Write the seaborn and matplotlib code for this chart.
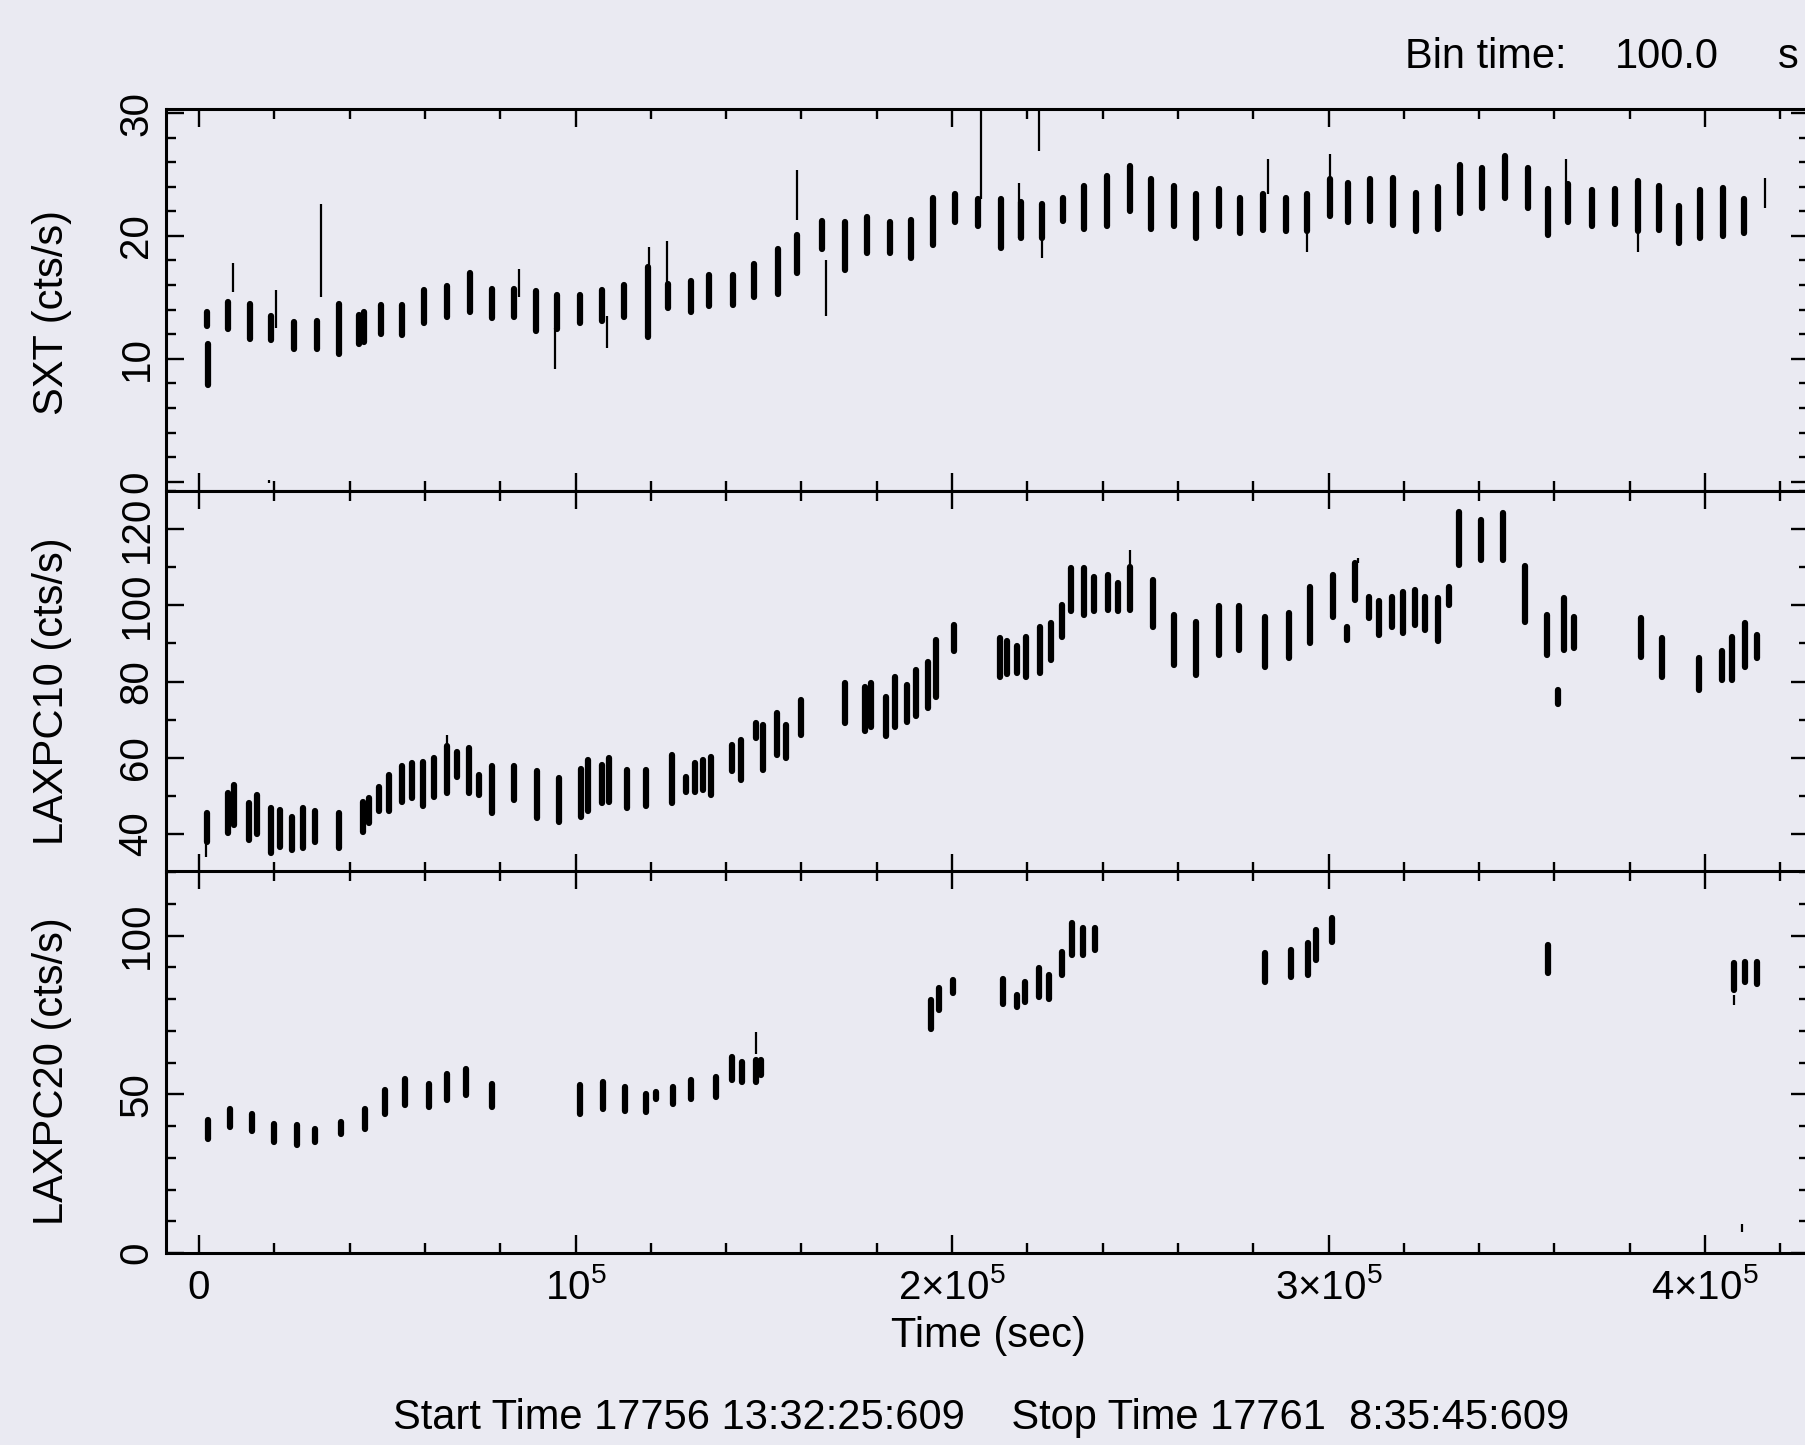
import matplotlib
matplotlib.use("Agg")
import matplotlib.pyplot as plt
import seaborn as sns
from matplotlib.ticker import MultipleLocator

# ---------------- data ----------------
# time (s) of each orbit segment, lower / upper extent of the plotted rates
sxt_t = [2000, 2300, 7740, 13540, 19250, 25240, 31220, 37200, 42600, 43800,
         48260, 53800, 59800, 65800, 72000, 77700, 83700, 89500, 95200, 101200,
         107000, 112900, 119200, 124700, 130700, 135500, 141700, 147400, 153800, 158800,
         165500, 171500, 177400, 183400, 189000, 194900, 200700, 206900, 212900, 218300,
         223900, 229400, 235100, 241200, 247200, 252900, 258900, 264800, 270800, 276400,
         282700, 288600, 294400, 300500, 305300, 311100, 317200, 323200, 329000, 334800,
         340800, 346800, 352900, 358400, 363500, 370000, 376100, 382100, 387700, 393200,
         398800, 404800, 410400]
sxt_lo = [12.7, 7.9, 12.4, 11.6, 11.5, 10.8, 10.8, 10.4, 11.2, 11.4,
          12.0, 11.9, 12.9, 13.4, 13.8, 13.3, 13.4, 12.3, 12.4, 12.9,
          13.1, 13.4, 11.8, 14.1, 13.8, 14.3, 14.4, 15.0, 15.3, 17.0,
          18.9, 17.2, 18.6, 18.6, 18.2, 19.3, 21.1, 20.8, 19.0, 19.8,
          19.8, 21.2, 20.6, 20.8, 22.0, 20.6, 20.8, 19.8, 20.8, 20.2,
          20.5, 20.4, 20.4, 21.6, 21.1, 21.2, 20.9, 20.4, 20.6, 21.9,
          22.3, 23.1, 22.3, 20.1, 21.1, 20.8, 21.0, 20.4, 20.5, 19.4,
          19.8, 20.0, 20.2]
sxt_hi = [13.8, 11.2, 14.6, 14.5, 13.5, 13.0, 13.1, 14.5, 13.6, 13.8,
          14.4, 14.4, 15.6, 15.9, 17.0, 15.7, 15.7, 15.5, 15.2, 15.2,
          15.6, 16.0, 17.5, 16.1, 16.3, 16.8, 16.8, 17.7, 18.9, 20.1,
          21.2, 21.1, 21.5, 21.1, 21.3, 23.1, 23.4, 23.0, 23.0, 22.8,
          22.6, 23.1, 24.1, 24.9, 25.7, 24.6, 24.1, 23.4, 23.8, 23.1,
          23.4, 23.1, 23.4, 24.6, 24.3, 24.6, 24.7, 23.5, 24.0, 25.8,
          25.5, 26.5, 25.5, 23.8, 24.2, 23.7, 23.8, 24.5, 24.1, 22.4,
          23.7, 23.9, 23.0]
# isolated single bins with large error bars
sxt_spk_t = [8930, 18500, 20450, 32330, 84900, 94500, 108300, 119400, 124200, 158800,
             166600, 207800, 217700, 223000, 223900, 283900, 294400, 300300, 363000, 382100,
             416000]
sxt_spk_lo = [15.4, -0.1, 12.5, 15.0, 15.0, 9.2, 10.9, 16.0, 16.0, 21.3,
              13.5, 23.0, 19.8, 26.9, 18.2, 23.4, 18.7, 24.6, 24.2, 18.7,
              22.3]
sxt_spk_hi = [17.8, 0.1, 15.6, 22.6, 17.3, 12.5, 13.5, 19.1, 19.6, 25.4,
              18.0, 31.0, 24.3, 31.0, 20.0, 26.3, 20.4, 26.7, 26.3, 20.4,
              24.7]

lx10_t = [2200, 7700, 9400, 13300, 15300, 19250, 21500, 24800, 27500, 30900,
          37200, 43650, 45200, 47800, 50400, 53800, 56500, 59600, 62500, 65800,
          68500, 71700, 74500, 77700, 83700, 89700, 95700, 101500, 103300, 107000,
          108800, 113800, 118700, 125500, 129300, 131800, 133800, 136000, 141600, 143900,
          148000, 149800, 153500, 156000, 160000, 171500, 177000, 178500, 182500, 184800,
          188000, 190500, 193500, 195800, 200400, 212800, 214500, 217300, 219700, 223400,
          226200, 229200, 231700, 235000, 237700, 241400, 244100, 247400, 253300, 258900,
          264800, 270800, 276300, 283000, 289500, 295200, 301100, 305000, 307000, 310800,
          313400, 316800, 319900, 323100, 325700, 329100, 332000, 334600, 340400, 346400,
          352200, 358100, 361000, 362500, 365300, 383000, 388500, 398500, 404500, 407300,
          410700, 413700]
lx10_lo = [38.0, 40.2, 42.4, 38.4, 40.0, 34.9, 36.5, 35.8, 36.2, 38.0,
           36.2, 40.6, 42.8, 45.9, 45.9, 48.5, 49.4, 47.3, 49.8, 50.7,
           55.0, 50.7, 50.2, 45.4, 48.9, 44.1, 43.2, 44.5, 46.0, 48.0,
           48.5, 46.7, 47.2, 48.0, 51.1, 51.1, 51.5, 50.2, 56.4, 54.2,
           65.1, 56.8, 60.7, 59.9, 66.0, 69.0, 66.9, 68.0, 65.6, 68.0,
           69.5, 71.0, 73.0, 76.0, 87.9, 81.3, 82.0, 82.2, 81.3, 82.2,
           85.7, 91.8, 98.4, 97.5, 98.4, 98.8, 98.4, 98.8, 94.4, 84.4,
           81.7, 87.0, 88.3, 83.9, 86.1, 90.0, 97.0, 90.9, 101.4, 96.6,
           92.2, 94.4, 92.7, 94.9, 93.5, 90.5, 100.1, 110.6, 111.9, 111.9,
           95.7, 87.0, 74.1, 88.3, 88.7, 86.5, 81.3, 77.8, 80.4, 80.4,
           83.9, 86.1]
lx10_hi = [45.4, 50.7, 52.9, 48.2, 50.2, 46.7, 46.2, 44.5, 46.7, 45.9,
           45.4, 48.5, 49.4, 52.4, 55.5, 57.7, 58.5, 59.0, 59.9, 63.0,
           61.6, 62.5, 55.5, 57.7, 57.7, 56.4, 54.6, 57.0, 59.4, 58.0,
           59.9, 56.8, 56.8, 60.7, 55.0, 58.5, 59.4, 60.3, 63.4, 64.7,
           69.0, 68.6, 71.7, 68.6, 75.2, 79.5, 78.5, 79.5, 76.0, 81.3,
           79.0, 83.0, 85.0, 90.9, 94.9, 91.4, 90.5, 89.2, 91.8, 94.4,
           95.3, 100.1, 109.7, 109.7, 107.5, 108.0, 105.8, 110.0, 106.7, 97.5,
           95.7, 99.7, 99.7, 97.0, 97.9, 104.9, 108.0, 94.4, 111.0, 102.3,
           101.0, 102.3, 103.6, 104.0, 102.3, 101.9, 104.9, 124.6, 122.4, 124.2,
           110.2, 97.5, 77.8, 101.9, 97.0, 96.6, 91.4, 86.1, 87.9, 91.8,
           95.3, 92.2]
lx10_spk_t = [1800, 65800, 247400, 307800]
lx10_spk_lo = [34.0, 63.0, 110.0, 111.0]
lx10_spk_hi = [38.0, 66.0, 114.5, 112.4]

lx20_t = [2400, 8300, 14000, 20000, 26000, 30900, 37700, 44200, 49500, 54800,
          61000, 65800, 70800, 77900, 101200, 107400, 113200, 118700, 121300, 126000,
          130600, 137200, 141500, 144100, 147900, 149400, 194500, 196600, 200300, 213600,
          217300, 219500, 223100, 225700, 229200, 231800, 234900, 238100, 283000, 290000,
          294600, 296600, 300900, 358200, 407600, 410700, 413700]
lx20_lo = [36.0, 39.7, 38.6, 34.9, 33.9, 34.9, 37.6, 39.2, 43.9, 46.5,
           46.0, 48.1, 49.7, 46.0, 43.9, 45.5, 44.9, 44.4, 48.6, 47.1,
           48.6, 49.2, 54.4, 53.9, 53.9, 56.0, 70.7, 76.5, 81.8, 78.6,
           77.6, 79.2, 80.7, 80.2, 87.6, 93.9, 93.9, 95.5, 85.5, 87.1,
           87.6, 92.3, 98.1, 88.1, 83.0, 85.5, 84.9]
lx20_hi = [41.8, 45.5, 43.9, 40.7, 40.2, 39.2, 41.3, 45.5, 51.3, 54.9,
           53.4, 56.5, 58.1, 53.4, 52.8, 53.9, 52.3, 50.2, 50.7, 52.3,
           54.4, 55.5, 61.8, 60.2, 60.7, 60.7, 79.7, 83.4, 86.0, 86.5,
           81.3, 85.5, 89.7, 87.6, 94.9, 103.9, 102.3, 102.3, 94.4, 95.5,
           97.6, 101.8, 105.5, 97.1, 91.3, 91.8, 91.8]
lx20_spk_t = [147900, 407800, 409900]
lx20_spk_lo = [62.8, 78.1, 6.5]
lx20_spk_hi = [69.7, 81.3, 9.2]

ylabels = ["SXT (cts/s)", "LAXPC10 (cts/s)", "LAXPC20 (cts/s)"]
x_major = [0, 100000, 200000, 300000, 400000]
x_major_labels = ["0", r"$\mathrm{10^5}$", r"$\mathrm{2{\times}10^5}$",
                  r"$\mathrm{3{\times}10^5}$", r"$\mathrm{4{\times}10^5}$"]
bin_text = ["Bin time:", "100.0", "s"]
time_text = "Start Time 17756 13:32:25:609    Stop Time 17761  8:35:45:609"

# ---------------- style ----------------
sns.set_theme(style="dark")
BG = "#EAEAF2"
plt.rcParams.update({
    "font.family": ["Liberation Sans", "DejaVu Sans"],
    "mathtext.fontset": "custom",
    "mathtext.rm": "Liberation Sans",
    "mathtext.it": "Liberation Sans:italic",
    "mathtext.bf": "Liberation Sans:bold",
    "figure.facecolor": BG,
    "axes.facecolor": BG,
    "text.color": "black",
    "axes.labelcolor": "black",
    "xtick.color": "black",
    "ytick.color": "black",
    "axes.grid": False,
})

W_PX, H_PX = 1806, 1445
fig = plt.figure(figsize=(W_PX / 100, H_PX / 100), dpi=100)

left_px, right_px = 166.5, 1809.0
panels_px = [(109, 491), (491, 872), (871, 1253)]
xlim = (-8632, 427620)
ylims = [(-0.76, 30.33), (30.0, 130.0), (0.0, 120.4)]
ymajor = [10, 20, 50]
yminor = [2, 10, 10]
ylab_y = [0.466, 0.475, 0.476]

blocks = [(sxt_t, sxt_lo, sxt_hi), (lx10_t, lx10_lo, lx10_hi), (lx20_t, lx20_lo, lx20_hi)]
spikes = [(sxt_spk_t, sxt_spk_lo, sxt_spk_hi), (lx10_spk_t, lx10_spk_lo, lx10_spk_hi),
          (lx20_spk_t, lx20_spk_lo, lx20_spk_hi)]

axes = []
for i, (top, bot) in enumerate(panels_px):
    rect = [left_px / W_PX, 1 - bot / H_PX, (right_px - left_px) / W_PX, (bot - top) / H_PX]
    ax = fig.add_axes(rect)
    axes.append(ax)
    t, lo, hi = blocks[i]
    ax.vlines(t, lo, hi, colors="black", linewidth=4.5, capstyle="round")
    st, slo, shi = spikes[i]
    ax.vlines(st, slo, shi, colors="black", linewidth=1.6, capstyle="butt")
    ax.set_xlim(*xlim)
    ax.set_ylim(*ylims[i])
    ax.xaxis.set_minor_locator(MultipleLocator(20000))
    ax.yaxis.set_major_locator(MultipleLocator(ymajor[i]))
    ax.yaxis.set_minor_locator(MultipleLocator(yminor[i]))
    yt = [v for v in ax.get_yticks() if ylims[i][0] <= v <= ylims[i][1]]
    ax.set_yticks(yt, [f"{v:g}" for v in yt], rotation=90, va="center", fontsize=29)
    if i < 2:
        ax.set_xticks(x_major, [""] * len(x_major))
    else:
        ax.set_xticks(x_major, x_major_labels, va="baseline", fontsize=29)
    ax.tick_params(which="both", direction="in", top=True, bottom=True, left=True, right=True,
                   width=1.7, color="black")
    ax.tick_params(which="major", length=13)
    ax.tick_params(which="minor", length=7)
    ax.tick_params(axis="y", pad=8)
    ax.tick_params(axis="x", pad=33)
    for sp in ax.spines.values():
        sp.set_color("black")
        sp.set_linewidth(2.2)
        sp.set_visible(True)
    ax.set_ylabel(ylabels[i], fontsize=30)
    ax.yaxis.set_label_coords((72 - left_px) / (right_px - left_px), ylab_y[i])
    ax.grid(False)

fig.text(1405 / W_PX, 1 - 68 / H_PX, bin_text[0], ha="left", va="baseline", fontsize=30)
fig.text(1615 / W_PX, 1 - 68 / H_PX, bin_text[1], ha="left", va="baseline", fontsize=30)
fig.text(1778 / W_PX, 1 - 68 / H_PX, bin_text[2], ha="left", va="baseline", fontsize=30)
fig.text(988 / W_PX, 1 - 1347 / H_PX, "Time (sec)", ha="center", va="baseline", fontsize=30)
fig.text(981 / W_PX, 1 - 1429 / H_PX, time_text, ha="center", va="baseline", fontsize=30)

fig.savefig("out.png", dpi=100, facecolor=BG)
